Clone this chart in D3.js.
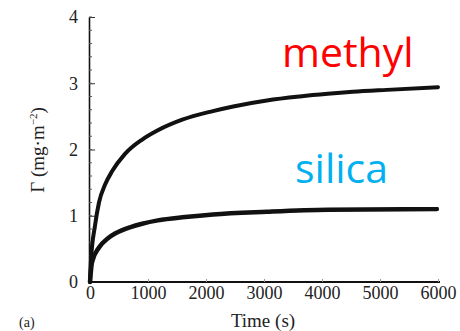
<!DOCTYPE html>
<html>
<head>
<meta charset="utf-8">
<script src="https://cdnjs.cloudflare.com/ajax/libs/d3/7.8.5/d3.min.js"></script>
<style>
  body { margin: 0; background: #fff; }
  svg { display: block; }
  .tick text { font-family: "Liberation Serif", serif; font-size: 18px; fill: #222; }
</style>
</head>
<body>
<script>
// adsorbed amount vs time
const methylTime  = [0, 17, 86, 155, 260, 380, 600, 900, 1170, 1590, 2120, 2470, 3050, 3620, 4100, 4530, 5120, 6000];
const methylGamma = [0, 0.33, 0.85, 1.20, 1.47, 1.67, 1.93, 2.15, 2.29, 2.45, 2.58, 2.65, 2.74, 2.80, 2.84, 2.87, 2.90, 2.94];

const silicaTime  = [0, 35, 155, 310, 450, 700, 900, 1170, 1640, 2120, 3050, 4100, 5980];
const silicaGamma = [0, 0.30, 0.52, 0.66, 0.74, 0.83, 0.88, 0.93, 0.98, 1.02, 1.06, 1.09, 1.10];

const xTicks = [0, 1000, 2000, 3000, 4000, 5000, 6000];
const yTicks = [0, 1, 2, 3, 4];

const svg = d3.select('body').append('svg')
  .attr('width', 460)
  .attr('height', 331);

const x = d3.scaleLinear().domain([0, 6000]).range([90, 438]);
const y = d3.scaleLinear().domain([0, 4]).range([282, 17]);

// y axis, ticks pointing inward
const yAxis = svg.append('g')
  .attr('transform', 'translate(89,0)')
  .call(d3.axisLeft(y).tickValues(yTicks).tickSizeInner(-6).tickSizeOuter(0).tickPadding(11).tickFormat(d3.format('d')));
yAxis.select('.domain').attr('stroke', '#111').attr('stroke-width', 1.6);
yAxis.selectAll('.tick line').attr('stroke', '#333');

// minor y ticks
svg.append('g').selectAll('line')
  .data(d3.range(0, 4.01, 0.2))
  .enter().append('line')
  .attr('x1', 89).attr('x2', 92)
  .attr('y1', d => y(d)).attr('y2', d => y(d))
  .attr('stroke', '#555').attr('stroke-width', 1);

// x axis
const xAxis = svg.append('g')
  .attr('transform', 'translate(0,282)')
  .call(d3.axisBottom(x).tickValues(xTicks).tickSizeInner(-3).tickSizeOuter(0).tickPadding(4).tickFormat(d3.format('d')));
xAxis.select('.domain').attr('stroke', '#111').attr('stroke-width', 2).attr('d', 'M89,0H440');
xAxis.selectAll('.tick line').attr('stroke', '#999');

// series lines
const line = d3.line()
  .x(d => x(d[0]))
  .y(d => y(d[1]))
  .curve(d3.curveMonotoneX);

const methyl = methylTime.map((t, i) => [t, methylGamma[i]]);
const silica = silicaTime.map((t, i) => [t, silicaGamma[i]]);

svg.append('path')
  .datum(methyl)
  .attr('d', line)
  .attr('fill', 'none')
  .attr('stroke', '#111')
  .attr('stroke-width', 4)
  .attr('stroke-linecap', 'round');

svg.append('path')
  .datum(silica)
  .attr('d', line)
  .attr('fill', 'none')
  .attr('stroke', '#111')
  .attr('stroke-width', 4.5)
  .attr('stroke-linecap', 'round');

// axis titles
svg.append('text')
  .attr('x', 263).attr('y', 327)
  .attr('text-anchor', 'middle')
  .style('font-family', '"Liberation Serif", serif')
  .style('font-size', '19px')
  .attr('fill', '#222')
  .text('Time (s)');

const yTitle = svg.append('text')
  .attr('transform', 'translate(44,150) rotate(-90)')
  .attr('text-anchor', 'middle')
  .style('font-family', '"Liberation Serif", serif')
  .style('font-size', '19px')
  .attr('fill', '#222');
yTitle.append('tspan').text('Γ (mg·m');
yTitle.append('tspan').attr('dy', -7).style('font-size', '11px').text('−2');
yTitle.append('tspan').attr('dy', 7).text(')');

svg.append('text')
  .attr('x', 19).attr('y', 327)
  .style('font-family', '"Liberation Serif", serif')
  .style('font-size', '14px')
  .attr('fill', '#222')
  .text('(a)');

// series labels
svg.append('text')
  .attr('x', 282).attr('y', 67)
  .style('font-family', '"Open Sans", sans-serif')
  .style('font-size', '41px')
  .attr('fill', '#ff0000')
  .text('methyl');

svg.append('text')
  .attr('x', 295).attr('y', 183)
  .style('font-family', '"Open Sans", sans-serif')
  .style('font-size', '41px')
  .attr('fill', '#00b0f0')
  .text('silica');
</script>
</body>
</html>
